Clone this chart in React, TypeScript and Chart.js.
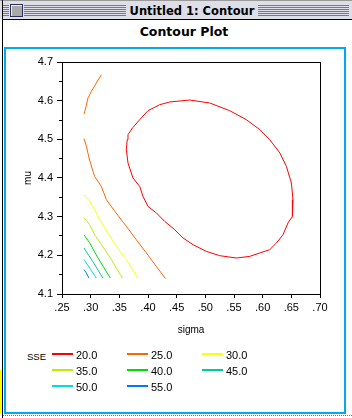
import React, { useEffect, useRef } from 'react';
import { Chart, registerables } from 'chart.js';

Chart.register(...registerables);

// ---- data ----
const levels = ['20.0', '25.0', '30.0', '35.0', '40.0', '45.0', '50.0', '55.0'];
const levelColors = ['#ff0000', '#ff6600', '#ffff00', '#bbee00', '#00dd00', '#00cc99', '#00dddd', '#0077ff'];

const xTickValues = [0.25, 0.3, 0.35, 0.4, 0.45, 0.5, 0.55, 0.6, 0.65, 0.7];
const yTickValues = [4.1, 4.2, 4.3, 4.4, 4.5, 4.6, 4.7];

// [sigma, mu]
const sse20: [number, number][] = [
  [0.3623, 4.4732], [0.3637, 4.4991], [0.3651, 4.512], [0.3733, 4.5301], [0.3855, 4.5508],
  [0.4, 4.5741], [0.4204, 4.5896], [0.4379, 4.5966], [0.4728, 4.6017], [0.5076, 4.594],
  [0.5425, 4.5741], [0.5716, 4.5508], [0.5952, 4.5249], [0.6123, 4.4991], [0.63, 4.4647],
  [0.6414, 4.43], [0.6501, 4.3871], [0.6529, 4.3439], [0.6519, 4.3007], [0.6442, 4.2837],
  [0.6355, 4.2534], [0.624, 4.2319], [0.6123, 4.2146], [0.5949, 4.2061], [0.5774, 4.1973],
  [0.5542, 4.1931], [0.5251, 4.1991], [0.5019, 4.2102], [0.4785, 4.2275], [0.4611, 4.2449],
  [0.4466, 4.2663], [0.4291, 4.2878], [0.4147, 4.3095], [0.4, 4.3266], [0.3913, 4.3524],
  [0.3855, 4.3783], [0.3738, 4.4], [0.3651, 4.4388], [0.3623, 4.4732],
];
const sse25Upper: [number, number][] = [
  [0.2884, 4.5655], [0.2913, 4.581], [0.2954, 4.607], [0.3013, 4.624], [0.3088, 4.643], [0.3187, 4.667],
];
const sse25Lower: [number, number][] = [
  [0.2884, 4.5017], [0.2926, 4.482], [0.2971, 4.452], [0.3041, 4.417], [0.307, 4.404],
  [0.3187, 4.378], [0.3274, 4.344], [0.342, 4.314], [0.3623, 4.275], [0.3798, 4.24],
  [0.3972, 4.206], [0.4147, 4.171], [0.4304, 4.14],
];
const sse30: [number, number][] = [
  [0.2884, 4.356], [0.2983, 4.34], [0.307, 4.318], [0.3158, 4.292], [0.3302, 4.258],
  [0.3449, 4.223], [0.3623, 4.189], [0.3826, 4.141],
];
const sse35: [number, number][] = [
  [0.2884, 4.297], [0.2983, 4.279], [0.307, 4.253], [0.3187, 4.228], [0.3362, 4.189], [0.3553, 4.141],
];
const sse40: [number, number][] = [
  [0.2884, 4.253], [0.2983, 4.232], [0.3128, 4.193], [0.3344, 4.141],
];
const sse45: [number, number][] = [
  [0.2884, 4.219], [0.3036, 4.184], [0.3215, 4.141],
];
const sse50: [number, number][] = [
  [0.2884, 4.189], [0.2983, 4.167], [0.31, 4.141],
];
const sse55: [number, number][] = [
  [0.2884, 4.163], [0.2922, 4.155], [0.2971, 4.141],
];

const contourSegments: { level: number; points: [number, number][] }[] = [
  { level: 0, points: sse20 },
  { level: 1, points: sse25Upper },
  { level: 1, points: sse25Lower },
  { level: 2, points: sse30 },
  { level: 3, points: sse35 },
  { level: 4, points: sse40 },
  { level: 5, points: sse45 },
  { level: 6, points: sse50 },
  { level: 7, points: sse55 },
];

const TICK_FONT = { family: '"Liberation Sans", Arial, sans-serif', size: 11 };
const TITLE_FONT = { family: '"Liberation Sans", Arial, sans-serif', size: 10 };

const framePlugin = {
  id: 'frameBox',
  afterDatasetsDraw(chart: any) {
    const { ctx, chartArea: a } = chart;
    ctx.save();
    ctx.strokeStyle = '#000';
    ctx.lineWidth = 1;
    ctx.strokeRect(a.left + 0.5, a.top + 0.5, a.right - a.left, a.bottom - a.top);
    ctx.restore();
  },
};

export default function App() {
  const ref = useRef<HTMLCanvasElement>(null);

  useEffect(() => {
    const datasets = contourSegments.map((seg) => ({
      label: levels[seg.level],
      data: seg.points.map(([x, y]) => ({ x, y })),
      borderColor: levelColors[seg.level],
      backgroundColor: levelColors[seg.level],
      borderWidth: 1,
      showLine: true,
      pointRadius: 0,
      tension: 0,
      fill: false,
      xAxisID: 'x',
      yAxisID: 'y',
    }));

    const chart = new Chart(ref.current!, {
      type: 'scatter',
      data: { datasets },
      plugins: [framePlugin],
      options: {
        animation: false,
        responsive: false,
        devicePixelRatio: 1,
        layout: { padding: { left: 0, top: 62, right: 32, bottom: 0 } },
        plugins: {
          legend: { display: false },
          tooltip: { enabled: false },
          title: { display: false },
        },
        scales: {
          x: {
            type: 'linear',
            position: 'bottom',
            min: xTickValues[0],
            max: xTickValues[xTickValues.length - 1],
            afterFit: (s: any) => { s.height = 56; },
            afterBuildTicks: (s: any) => { s.ticks = xTickValues.map((v) => ({ value: v })); },
            ticks: {
              color: '#000',
              font: TICK_FONT,
              padding: 3,
              maxRotation: 0,
              autoSkip: false,
              callback: (v: any) => Number(v).toFixed(2).replace(/^0/, ''),
            },
            grid: { drawOnChartArea: false, drawTicks: true, tickLength: 4, tickColor: '#000', tickWidth: 1 },
            border: { display: true, color: '#000', width: 1 },
            title: { display: true, text: 'sigma', color: '#000', font: TITLE_FONT, padding: { top: 0, bottom: 14 } },
          },
          y: {
            type: 'linear',
            position: 'left',
            weight: 1,
            min: yTickValues[0],
            max: yTickValues[yTickValues.length - 1],
            afterFit: (s: any) => { s.width = 62; },
            afterBuildTicks: (s: any) => { s.ticks = yTickValues.map((v) => ({ value: v })); },
            ticks: {
              color: '#000',
              font: TICK_FONT,
              padding: 4,
              autoSkip: false,
              callback: (v: any) => Number(v).toFixed(1),
            },
            grid: { drawOnChartArea: false, drawTicks: true, tickLength: 5, tickColor: '#000', tickWidth: 1 },
            border: { display: true, color: '#000', width: 1 },
            title: { display: true, text: 'mu', color: '#000', font: TITLE_FONT, padding: { top: 22.5, bottom: 0 } },
          },
          yMinor: {
            type: 'linear',
            position: 'left',
            weight: 0,
            min: yTickValues[0],
            max: yTickValues[yTickValues.length - 1],
            afterFit: (s: any) => { s.width = 0; },
            ticks: { display: false, stepSize: 0.05 },
            grid: { drawOnChartArea: false, drawTicks: true, tickLength: 3, tickColor: '#000', tickWidth: 1 },
            border: { display: false },
          },
        },
      } as any,
    });
    return () => chart.destroy();
  }, []);

  const abs = (s: React.CSSProperties): React.CSSProperties => ({ position: 'absolute', ...s });

  return (
    <div style={{ position: 'fixed', left: 0, top: 0, width: 352, height: 418, background: '#fff', overflow: 'hidden' }}>
      {/* window title bar */}
      <div style={abs({ left: 0, top: 0, width: 352, height: 19, background: '#dedee8' })} />
      <div style={abs({ left: 0, top: 0, width: 352, height: 1, background: '#999' })} />
      <div
        style={abs({
          left: 3, top: 5, width: 346, height: 11,
          background: 'repeating-linear-gradient(to bottom, #7a7a7a 0px, #7a7a7a 1px, transparent 1px, transparent 2px)',
        })}
      />
      <div style={abs({ left: 9, top: 3, width: 15, height: 15, background: '#dedee8' })} />
      <div
        style={abs({
          left: 10, top: 4, width: 13, height: 13, boxSizing: 'border-box',
          border: '1px solid #2e2e5c', background: '#a9a9a9', boxShadow: 'inset 1px 1px 0 #eeeeee',
        })}
      />
      <div style={abs({ left: 126, top: 3, width: 132, height: 15, background: '#dedee8' })} />
      <div
        style={abs({
          left: 126, top: 4, width: 132, height: 14, lineHeight: '14px', textAlign: 'center',
          fontFamily: '"DejaVu Sans", sans-serif', fontWeight: 'bold', fontSize: 11.5, color: '#000', whiteSpace: 'nowrap',
        })}
      >
        Untitled 1: Contour
      </div>
      <div style={abs({ left: 2, top: 19, width: 350, height: 1, background: '#000' })} />
      <div style={abs({ left: 2, top: 0, width: 1, height: 418, background: '#000' })} />
      <div style={abs({ left: 0, top: 370, width: 2, height: 43, background: '#ffff00' })} />
      <div style={abs({ left: 3, top: 415, width: 349, height: 0, borderTop: '1px dotted #777' })} />

      {/* chart title */}
      <div
        style={abs({
          left: 100, top: 24, width: 168, height: 15, lineHeight: '15px', textAlign: 'center',
          fontFamily: '"DejaVu Sans", sans-serif', fontWeight: 'bold', fontSize: 12.5, color: '#000', whiteSpace: 'nowrap',
        })}
      >
        Contour Plot
      </div>

      {/* cyan frame */}
      <div style={abs({ left: 4, top: 47, width: 342, height: 367, boxSizing: 'border-box', border: '2px solid #00aaee' })} />

      <canvas ref={ref} width={352} height={350} style={abs({ left: 0, top: 0, width: 352, height: 350 })} />

      {/* legend */}
      <div
        style={abs({
          left: 27, top: 349.5, height: 13, lineHeight: '13px',
          fontFamily: '"Liberation Sans", Arial, sans-serif', fontSize: 9.5, color: '#000',
        })}
      >
        SSE
      </div>
      {levels.map((lab, i) => {
        const col = i % 3;
        const row = Math.floor(i / 3);
        return (
          <React.Fragment key={lab}>
            <div style={abs({ left: 52 + col * 75, top: 353 + row * 16, width: 21, height: 2, background: levelColors[i] })} />
            <div
              style={abs({
                left: 76 + col * 75, top: 349.3 + row * 16, height: 13, lineHeight: '13px',
                fontFamily: '"Liberation Sans", Arial, sans-serif', fontSize: 11, color: '#000', whiteSpace: 'nowrap',
              })}
            >
              {lab}
            </div>
          </React.Fragment>
        );
      })}
    </div>
  );
}
